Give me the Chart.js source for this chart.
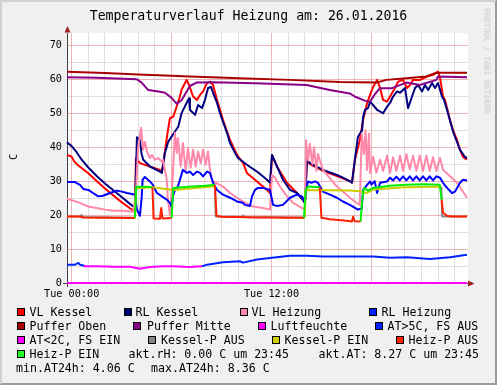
<!DOCTYPE html>
<html><head><meta charset="utf-8">
<script src="https://cdn.jsdelivr.net/npm/chart.js@4/dist/chart.umd.min.js"></script>
<style>
html,body{margin:0;padding:0;}
body{width:497px;height:385px;background:#f0f0f0;position:relative;overflow:hidden;font-family:"DejaVu Sans Mono",monospace;color:#000;}
#c{position:absolute;left:0;top:0;}
.t{position:absolute;white-space:pre;font-size:11.6px;line-height:14px;}
.sq{position:absolute;width:6px;height:6px;border:1px solid #000;}
#frame{position:absolute;left:0;top:0;width:493px;height:381px;border:2px solid;border-color:#d0d0d0 #9a9a9a #9a9a9a #d0d0d0;pointer-events:none;}
#title{position:absolute;left:0;top:8px;width:497px;text-align:center;font-size:13.2px;line-height:16px;white-space:pre;}
#unit{position:absolute;left:14px;top:157px;font-size:10.2px;line-height:12px;transform:translate(-50%,-50%) rotate(-90deg);}
#wm{position:absolute;left:487px;top:61px;font-size:7.9px;line-height:9px;color:#c8c8c8;white-space:pre;transform:translate(-50%,-50%) rotate(90deg);}
</style></head><body>
<canvas id="c" width="497" height="385"></canvas>
<div id="title">Temperaturverlauf Heizung am: 26.01.2016</div>
<div id="unit">C</div>
<div id="wm">RRDTOOL / TOBI OETIKER</div>
<div id="legend"></div>
<div id="frame"></div>
<script>
// ---- data: [hour, value] ----
const vlKessel = [[-0.28,37.7],[0,37.2],[0.15,35.8],[0.4,34.6],[1.0,32.3],[1.5,30.0],[2.0,27.8],[2.5,25.8],[3.0,23.8],[3.5,22.0],[3.8,21.0],
[3.86,36.8],[4.1,35.3],[4.7,34.3],[5.3,33.3],[5.42,32.8],[5.55,37.0],[5.75,44.0],[5.9,48.5],[6.1,49.0],[6.3,51.9],[6.5,54.9],[6.6,56.9],[6.8,58.8],[6.9,59.8],[7.05,58.3],[7.29,54.9],[7.53,53.9],[7.71,55.4],[7.89,56.4],[8.13,58.9],[8.31,59.3],[8.49,58.3],[8.73,53.9],[8.91,51.0],[9.09,48.0],[9.51,42.1],[9.93,37.7],[10.3,35.3],[10.52,32.4],[11.13,29.9],[11.73,27.4],[11.91,26.5],
[12.03,37.7],[12.33,34.3],[12.93,29.5],[13.53,26.5],[13.89,24.5],[14.01,23.5],
[14.13,36.0],[14.31,35.0],[15.09,33.0],[15.93,31.5],[16.71,30.0],[16.83,29.5],
[17.01,36.3],[17.31,42.1],[17.5,48.0],[17.74,53.0],[17.92,55.4],[18.1,57.7],[18.34,59.8],[18.52,57.4],[18.7,53.9],[18.94,53.4],[19.12,54.9],[19.42,57.4],[19.6,59.3],[19.9,59.8],[20.14,57.4],[20.32,58.3],[20.5,59.8],[20.92,59.8],[21.34,60.8],[21.7,61.3],[22.0,62.2],[22.12,60.4],[22.3,54.9],[22.42,53.9],[22.54,51.5],[22.72,48.0],[22.9,45.0],[23.14,42.1],[23.32,39.2],[23.5,37.1],[23.74,36.3]];

const rlKessel = [[-0.28,41.4],[0,40.3],[0.3,38.5],[0.6,36.3],[1.0,34.0],[1.5,31.5],[2.0,29.3],[2.5,27.3],[3.0,25.3],[3.5,23.3],[3.8,22.2],
[3.92,42.9],[4.1,42.1],[4.2,38.0],[4.3,36.3],[4.7,34.3],[5.3,32.8],[5.42,32.4],[5.6,38.3],[5.8,41.6],[6.0,43.1],[6.2,44.6],[6.4,46.0],[6.6,50.0],[6.75,51.5],[6.9,53.0],[7.05,54.4],[7.1,51.0],[7.41,49.5],[7.59,52.4],[7.83,51.5],[8.01,54.0],[8.19,57.4],[8.37,57.7],[8.49,56.0],[8.73,53.0],[8.91,50.0],[9.09,47.4],[9.33,44.2],[9.51,41.2],[9.81,38.3],[9.99,36.8],[10.52,34.8],[11.13,32.8],[11.73,30.4],[11.91,29.5],
[12.03,37.7],[12.33,34.3],[12.69,30.4],[13.11,27.4],[13.53,26.5],[13.89,24.5],[14.01,23.5],
[14.13,36.3],[14.31,35.3],[15.09,33.3],[15.93,31.8],[16.29,31.0],[16.71,29.9],[16.83,29.5],
[17.01,36.3],[17.19,43.0],[17.44,45.0],[17.5,48.9],[17.62,51.0],[17.8,51.5],[17.92,53.4],[18.1,52.4],[18.34,51.0],[18.7,50.0],[18.94,51.9],[19.12,53.0],[19.3,54.9],[19.54,56.4],[19.72,56.0],[20.02,57.4],[20.2,51.5],[20.44,54.9],[20.62,57.4],[20.8,58.3],[21.04,56.4],[21.22,58.3],[21.41,56.8],[21.64,58.9],[21.82,57.4],[22.0,58.9],[22.24,54.9],[22.36,53.9],[22.54,51.0],[22.9,44.6],[23.32,39.2],[23.62,37.1],[23.74,36.8]];

const vlHeizung = [[-0.28,24.8],[0.5,23.6],[1.0,22.5],[1.5,22.1],[2.0,21.6],[2.5,21.3],[3.1,21.3],[3.7,21.0],[3.86,26.5],[3.98,39.2],[4.17,45.7],[4.29,39.2],[4.4,41.6],[4.52,38.7],[4.7,36.8],[4.82,37.7],[5.0,36.3],[5.18,36.8],[5.42,35.8],[5.48,36.3],[5.71,30.4],[5.78,24.5],[5.9,20.1],[6.07,31.4],[6.2,44.2],[6.31,38.3],[6.38,42.7],[6.55,34.3],[6.68,41.2],[6.85,32.8],[6.98,39.7],[7.15,33.9],[7.29,39.2],[7.45,34.3],[7.59,38.7],[7.75,35.3],[7.89,39.2],[8.05,34.8],[8.19,38.7],[8.35,31.4],[8.49,29.9],[9.09,28.4],[9.51,26.5],[9.93,25.1],[10.28,24.0],[10.89,22.5],[11.49,22.1],[11.91,21.6],
[12.03,31.8],[12.21,31.0],[12.51,28.4],[12.93,25.5],[13.29,23.6],[13.71,22.4],[14.01,21.6],[14.07,42.0],[14.2,36.0],[14.3,41.0],[14.45,35.0],[14.55,40.0],[14.7,33.0],[14.79,38.0],[15.09,33.3],[15.93,28.4],[16.71,25.1],[17.0,24.0],[17.3,23.0],
[17.42,44.0],[17.55,38.0],[17.65,45.0],[17.74,33.3],[17.85,44.0],[17.92,32.4],[18.1,37.2],[18.3,32.5],[18.52,36.3],[18.7,33.0],[18.94,37.5],[19.12,32.4],[19.3,37.0],[19.5,33.0],[19.72,37.5],[19.9,33.0],[20.1,38.0],[20.3,33.5],[20.5,37.5],[20.7,33.0],[20.9,37.5],[21.1,33.0],[21.3,37.5],[21.5,33.0],[21.7,37.0],[21.9,33.0],[22.12,36.8],[22.3,33.3],[22.72,31.4],[23.14,29.5],[23.74,25.1]];

const rlHeizung = [[-0.28,29.7],[0.2,29.7],[0.5,28.9],[0.7,27.7],[1.0,27.4],[1.28,26.5],[1.6,25.5],[1.88,25.7],[2.3,26.5],[2.72,27.2],[3.02,26.9],[3.32,26.5],[3.62,26.2],[3.8,26.0],[3.92,21.6],[4.1,19.8],[4.2,25.0],[4.26,30.4],[4.4,31.2],[4.7,29.9],[4.88,28.9],[5.12,26.5],[5.42,25.5],[5.72,24.5],[5.9,23.6],[6.01,22.5],[6.08,25.5],[6.2,27.4],[6.38,28.4],[6.5,30.4],[6.68,33.3],[6.92,32.4],[7.1,32.8],[7.29,31.8],[7.53,32.8],[7.71,32.4],[7.89,31.4],[8.13,32.8],[8.31,32.4],[8.49,29.5],[8.73,27.4],[9.09,26.0],[9.51,25.1],[9.93,24.0],[10.28,23.6],[10.4,23.0],[10.71,22.7],[10.83,25.5],[11.01,27.4],[11.19,28.0],[11.49,28.0],[11.91,27.4],[12.03,24.5],[12.09,23.0],[12.33,22.7],[12.69,23.0],[13.11,25.1],[13.53,26.0],[13.83,25.5],[14.01,24.0],
[14.13,28.4],[14.19,29.9],[14.4,29.5],[14.61,29.9],[14.79,29.5],[14.91,28.4],[15.09,26.9],[15.51,26.0],[15.93,25.1],[16.29,24.0],[16.71,23.0],[17.19,21.6],[17.42,22.0],[17.5,27.4],[17.74,28.9],[17.92,29.9],[18.0,29.0],[18.2,30.0],[18.34,26.5],[18.52,29.5],[18.94,29.9],[19.12,31.0],[19.3,30.2],[19.5,31.3],[19.7,30.2],[19.9,31.4],[20.1,30.2],[20.3,31.4],[20.5,30.2],[20.7,31.4],[20.9,30.2],[21.1,31.4],[21.3,30.2],[21.5,31.4],[21.7,30.2],[21.9,31.4],[22.12,31.0],[22.3,29.5],[22.54,28.0],[22.84,26.5],[23.02,26.9],[23.32,29.5],[23.5,30.4],[23.74,30.2]];

const pufferOben = [[-0.28,62.2],[2,61.8],[4,61.4],[6,61.0],[7.1,60.8],[10.1,60.3],[13.1,59.8],[16.1,59.2],[18.3,59.0],[18.9,59.8],[20.1,60.3],[21.3,60.8],[21.9,61.9],[23.74,61.9]];

const pufferMitte = [[-0.28,60.6],[1.5,60.4],[3.9,60.0],[4.2,59.0],[4.6,56.8],[5.3,56.3],[5.6,56.0],[6.0,54.5],[6.3,52.8],[6.6,53.8],[7.1,58.0],[7.5,59.0],[8.5,59.1],[11,58.8],[14.1,58.3],[15.5,56.8],[16.7,55.8],[17.0,54.9],[17.6,53.7],[17.9,53.3],[18.2,55.5],[18.5,57.3],[19.2,57.3],[20.1,59.0],[20.9,58.3],[21.9,59.8],[22.0,60.8],[23.74,60.6]];

const luftfeuchte = [[-0.28,0],[23.74,0]];

const aussenTemp = [[-0.28,5.4],[0.2,5.4],[0.4,5.9],[0.5,5.4],[0.75,5.1],[0.8,4.9],[1.5,4.9],[2.5,4.8],[3.5,4.8],[4.1,4.2],[4.7,4.7],[5.5,4.9],[6.0,4.9],[7.1,4.7],[7.83,4.9],[7.95,5.1],[8.13,5.4],[9.09,6.1],[10.1,6.4],[10.28,6.0],[11.13,6.9],[12.03,7.4],[13.11,8.0],[14.13,8.0],[15.09,7.8],[16.71,7.8],[18.1,7.8],[19.12,7.4],[20.14,7.6],[21.52,7.1],[22.72,7.6],[23.74,8.3]];

const kesselP = [[-0.28,19.6],[0.5,19.6],[0.6,20.0],[0.7,19.4],[3.8,19.2],[3.85,27.8],[4.85,28.2],[6.1,27.4],[8.6,28.5],[8.65,19.6],[10.25,19.4],[10.3,19.9],[10.35,19.4],[14.0,19.3],[14.05,27.4],[16.7,27.2],[17.3,27.0],[17.7,26.5],[18.1,27.5],[20,28.2],[22.2,28.3],[22.25,19.6],[23.74,19.6]];

const heizP = [[-0.28,19.6],[0.5,19.6],[0.7,19.3],[2,19.2],[3.8,19.1],[3.88,28.4],[4.0,28.3],[4.5,28.3],[4.85,28.2],[4.92,19.0],[5.3,18.9],[5.38,22.1],[5.45,19.0],[6.0,19.1],[6.1,28.0],[7,28.3],[8,28.6],[8.6,28.9],[8.7,19.8],[9,19.5],[10,19.4],[11,19.3],[12,19.3],[13,19.2],[13.95,19.2],[14.05,27.4],[14.2,28.4],[14.9,28.2],[15.0,19.2],[15.5,18.8],[16.5,18.3],[16.83,18.1],[16.9,19.5],[17.0,18.2],[17.35,18.1],[17.45,24.5],[17.55,28.0],[17.8,27.2],[18.1,28.0],[19.1,28.6],[20.1,28.9],[21.1,29.1],[22.1,28.9],[22.22,24.5],[22.3,20.7],[22.54,19.8],[22.8,19.6],[23.74,19.6]];

const xTickValues = [];
for (let h = 0; h <= 23; h++) xTickValues.push(h);
const xTickLabels = {0: 'Tue 00:00', 12: 'Tue 12:00'};
const yTickValues = [0,5,10,15,20,25,30,35,40,45,50,55,60,65,70];

// ---- colours ----
const C = {
  vlKessel:'#ff0000', rlKessel:'#000080', vlHeizung:'#ff88aa', rlHeizung:'#0000ff',
  pufferOben:'#aa0000', pufferMitte:'#880088', luft:'#ff00ff', atWarm:'#0022ff', atCold:'#ff00ff',
  kpAus:'#888888', kpEin:'#cccc00', hpAus:'#ff2000', hpEin:'#00ee00'
};

const toXY = a => a.map(p => ({x:p[0], y:p[1]}));
let idx = 0;
function ds(label, data, color, extra) {
  const o = Object.assign({label, data: toXY(data), borderColor: color, backgroundColor: color,
    borderWidth: 2, pointRadius: 0, pointHoverRadius: 0, tension: 0, fill: false, clip: false,
    borderJoinStyle: 'round', spanGaps: false, order: -idx}, extra || {});
  idx++;
  return o;
}

const datasets = [
  ds('VL Kessel', vlKessel, C.vlKessel),
  ds('RL Kessel', rlKessel, C.rlKessel),
  ds('VL Heizung', vlHeizung, C.vlHeizung),
  ds('RL Heizung', rlHeizung, C.rlHeizung),
  ds('Puffer Oben', pufferOben, C.pufferOben),
  ds('Puffer Mitte', pufferMitte, C.pufferMitte),
  ds('Luftfeuchte', luftfeuchte, C.luft),
  ds('AT', aussenTemp, C.atWarm, {segment:{borderColor: c => c.p1.parsed.y < 5 ? C.atCold : C.atWarm}}),
  ds('Kessel-P', kesselP, C.kpAus, {segment:{borderColor: c => c.p1.parsed.y >= 23 ? C.kpEin : C.kpAus}}),
  ds('Heiz-P', heizP, C.hpAus, {segment:{borderColor: c => c.p1.parsed.y >= 23 ? C.hpEin : C.hpAus}})
];

const rrdPlugin = {
  id: 'rrd',
  beforeDraw(chart) {
    const {ctx, chartArea: a} = chart;
    ctx.save(); ctx.fillStyle = '#ffffff';
    ctx.fillRect(a.left, a.top, a.right - a.left, a.bottom - a.top);
    ctx.restore();
  },
  beforeDatasetsDraw(chart) {
    const {ctx, chartArea: a} = chart;
    ctx.save(); ctx.strokeStyle = '#404040'; ctx.lineWidth = 1;
    ctx.beginPath();
    ctx.moveTo(Math.round(a.left) + 0.5, a.top); ctx.lineTo(Math.round(a.left) + 0.5, a.bottom + 4);
    ctx.moveTo(a.left - 4, Math.round(a.bottom) + 0.5); ctx.lineTo(a.right, Math.round(a.bottom) + 0.5);
    ctx.stroke(); ctx.restore();
  },
  afterDatasetsDraw(chart) {
    const {ctx, chartArea: a} = chart;
    const xl = Math.round(a.left) + 0.5, yb = Math.round(a.bottom) + 0.5;
    ctx.save(); ctx.fillStyle = '#a02020';
    ctx.beginPath(); ctx.moveTo(xl - 3, a.top - 0.5); ctx.lineTo(xl + 3, a.top - 0.5); ctx.lineTo(xl, a.top - 7); ctx.closePath(); ctx.fill();
    ctx.beginPath(); ctx.moveTo(a.right, yb - 3); ctx.lineTo(a.right, yb + 3); ctx.lineTo(a.right + 6.5, yb); ctx.closePath(); ctx.fill();
    ctx.restore();
  }
};

Chart.defaults.font.family = '"DejaVu Sans Mono", monospace';
new Chart(document.getElementById('c'), {
  type: 'line',
  data: { datasets },
  plugins: [rrdPlugin],
  options: {
    responsive: false, animation: false, devicePixelRatio: 1,
    layout: { padding: { left: 0, top: 33, right: 29, bottom: 82 } },
    plugins: { legend: { display: false }, tooltip: { enabled: false }, title: { display: false } },
    scales: {
      x: {
        type: 'linear', min: -0.28, max: 23.8,
        afterBuildTicks: s => { s.ticks = xTickValues.map(v => ({value: v})); },
        afterFit: s => { s.height = 20; },
        grid: { drawTicks: false, lineWidth: 1,
          color: c => (c.tick && c.tick.value % 6 === 0) ? 'rgba(230,150,150,0.7)' : 'rgba(200,200,200,0.6)' },
        border: { display: false },
        ticks: { autoSkip: false, maxRotation: 0, minRotation: 0, padding: 5, color: '#000',
          font: { size: 10.2 }, callback: v => xTickLabels[v] || '' }
      },
      y: {
        type: 'linear', min: 0, max: 73.6,
        afterBuildTicks: s => { s.ticks = yTickValues.map(v => ({value: v})); },
        afterFit: s => { s.width = 67; },
        grid: { drawTicks: false, lineWidth: 1,
          color: c => (c.tick && c.tick.value % 10 === 0) ? 'rgba(230,150,150,0.7)' : 'rgba(200,200,200,0.6)' },
        border: { display: false },
        ticks: { autoSkip: false, padding: 5, color: '#000', font: { size: 10.2 },
          callback: v => (v % 10 === 0) ? String(v) : '' }
      }
    }
  }
});

// ---- legend (rrdtool style) ----
const legendRows = [
  [['VL Kessel', C.vlKessel, 17, 29.5], ['RL Kessel', C.rlKessel, 124, 135.5], ['VL Heizung', C.vlHeizung, 240, 251.5], ['RL Heizung', '#0022ff', 369, 381.5]],
  [['Puffer Oben', C.pufferOben, 17, 29.5], ['Puffer Mitte', C.pufferMitte, 133, 147], ['Luftfeuchte', C.luft, 258, 270.5], ['AT>5C, FS AUS', C.atWarm, 375, 387.5]],
  [['AT<2C, FS EIN', C.atCold, 17, 29.5], ['Kessel-P AUS', C.kpAus, 148, 161], ['Kessel-P EIN', C.kpEin, 272, 284.5], ['Heiz-P AUS', C.hpAus, 396, 408.5]],
  [['Heiz-P EIN', '#22ff22', 17, 29.5], ['akt.rH: 0.00 C um 23:45', null, 0, 128.5], ['akt.AT: 8.27 C um 23:45', null, 0, 318.5]],
  [['min.AT24h: 4.06 C', null, 0, 16], ['max.AT24h: 8.36 C', null, 0, 151]]
];
const rowTops = [305, 319, 333, 347, 361];
const lg = document.getElementById('legend');
legendRows.forEach((row, r) => {
  row.forEach(([txt, col, sx, tx]) => {
    if (col) {
      const s = document.createElement('div'); s.className = 'sq';
      s.style.left = sx + 'px'; s.style.top = (rowTops[r] + 3) + 'px'; s.style.background = col;
      lg.appendChild(s);
    }
    const t = document.createElement('div'); t.className = 't';
    t.style.left = tx + 'px'; t.style.top = rowTops[r] + 'px'; t.textContent = txt;
    lg.appendChild(t);
  });
});
</script>
</body></html>
